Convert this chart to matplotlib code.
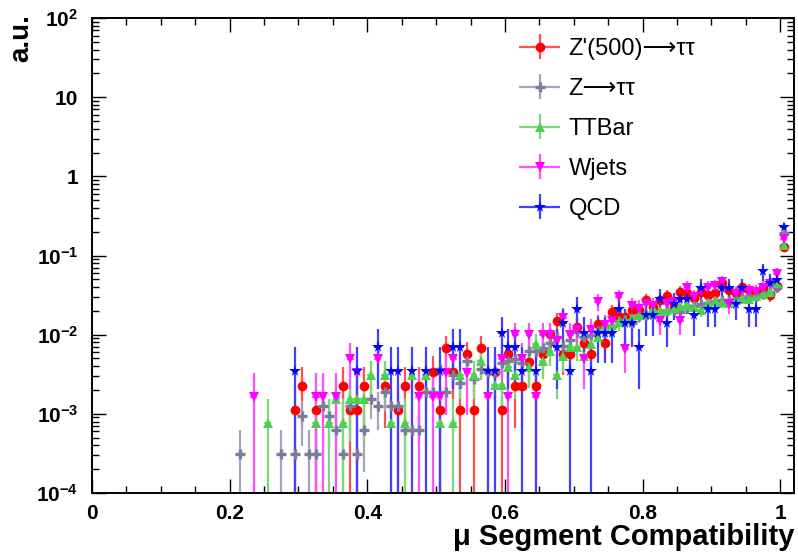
import numpy as np
import matplotlib
matplotlib.use("Agg")
import matplotlib.pyplot as plt
from matplotlib.ticker import MultipleLocator, FixedLocator, FixedFormatter, LogLocator, NullFormatter
from matplotlib.legend_handler import HandlerErrorbar
from matplotlib.container import ErrorbarContainer

plt.rcParams["font.family"] = ["Liberation Sans", "DejaVu Sans"]
plt.rcParams["mathtext.fontset"] = "custom"
plt.rcParams["mathtext.rm"] = "Liberation Sans:bold"
plt.rcParams["mathtext.it"] = "Liberation Sans:bold"
plt.rcParams["mathtext.bf"] = "Liberation Sans:bold"

# 0.01-wide bins; the first filled bin is [0.21, 0.22), the last [1.00, 1.01)
BIN_WIDTH = 0.01
FIRST_BIN = 21

# raw entries per bin (bins 21..100) and the per-entry weight after unit-area normalisation
zprime_counts = [0, 0, 0, 0, 0, 0, 0, 0, 1, 2,
                 0, 1, 0, 0, 0, 2, 1, 1, 2, 0,
                 0, 2, 0, 1, 2, 0, 2, 0, 3, 1,
                 6, 3, 1, 5, 1, 6, 0, 3, 1, 5,
                 2, 2, 4, 2, 5, 9, 13, 5, 5, 11,
                 7, 5, 12, 7, 17, 15, 15, 18, 18, 24,
                 20, 24, 27, 20, 31, 30, 26, 31, 28, 30,
                 40, 32, 30, 35, 32, 30, 34, 28, 36, 115]
ztautau_counts = [1, 0, 0, 0, 0, 0, 1, 0, 1, 3,
                  1, 1, 4, 3, 2, 1, 4, 1, 2, 5,
                  4, 6, 4, 4, 2, 2, 2, 6, 6, 12,
                  6, 10, 8, 15, 9, 12, 11, 11, 14, 15,
                  16, 14, 20, 20, 22, 25, 30, 23, 28, 35,
                  30, 32, 36, 40, 42, 48, 50, 45, 55, 58,
                  60, 60, 64, 66, 63, 70, 74, 78, 80, 85,
                  88, 86, 90, 95, 98, 100, 105, 110, 130, 613]
ttbar_counts = [0, 0, 0, 0, 1, 0, 0, 0, 0, 0,
                0, 1, 0, 1, 2, 1, 2, 2, 2, 4,
                0, 4, 1, 0, 1, 4, 0, 4, 0, 1,
                0, 1, 4, 0, 4, 6, 0, 3, 3, 5,
                4, 0, 5, 10, 6, 8, 4, 7, 9, 9,
                7, 10, 12, 16, 17, 19, 20, 21, 23, 24,
                28, 26, 27, 28, 30, 31, 29, 27, 33, 35,
                34, 33, 36, 38, 37, 40, 42, 45, 58, 175]
wjets_counts = [0, 0, 1, 0, 0, 0, 0, 0, 0, 0,
                0, 1, 1, 0, 1, 0, 3, 2, 0, 0,
                3, 0, 0, 0, 0, 0, 1, 0, 1, 1,
                2, 3, 0, 2, 0, 0, 1, 0, 3, 1,
                6, 3, 6, 1, 6, 6, 5, 10, 6, 7,
                3, 7, 16, 8, 9, 18, 4, 14, 13, 15,
                14, 9, 15, 16, 9, 24, 18, 22, 24, 25,
                28, 15, 20, 22, 22, 21, 24, 27, 36, 98]
qcd_counts = [0, 0, 0, 0, 0, 0, 0, 0, 1, 0,
              0, 0, 0, 0, 0, 0, 0, 1, 0, 0,
              2, 0, 1, 1, 0, 1, 0, 1, 0, 1,
              0, 2, 2, 0, 0, 0, 1, 1, 3, 2,
              2, 1, 0, 1, 0, 0, 2, 4, 1, 6,
              3, 1, 3, 3, 3, 6, 4, 4, 2, 5,
              5, 8, 4, 7, 8, 8, 5, 11, 6, 6,
              11, 11, 7, 11, 6, 6, 18, 13, 14, 66]

zprime_weight = 1.13e-3
ztautau_weight = 3.1e-4
ttbar_weight = 7.7e-4
wjets_weight = 1.64e-3
qcd_weight = 3.5e-3

labels = ["Z'(500)\u27f6\u03c4\u03c4", "Z\u27f6\u03c4\u03c4", "TTBar", "Wjets", "QCD"]

Y_MIN, Y_MAX = 1e-4, 1e2


def draw_hist(ax, counts, weight, color, ecolor, marker, ms, label, mew=0.0):
    counts = np.asarray(counts, dtype=float)
    x = (FIRST_BIN + np.arange(len(counts)) + 0.5) * BIN_WIDTH
    keep = counts > 0
    val = counts[keep] * weight
    err = np.sqrt(counts[keep]) * weight
    lo = np.minimum(err, val - 1e-6)  # single-entry bins run down off the log axis
    return ax.errorbar(
        x[keep], val, yerr=[lo, err], xerr=BIN_WIDTH / 2,
        fmt=marker, color=color, ecolor=ecolor, ms=ms, mec=color, mew=mew,
        elinewidth=1.6, capsize=0, label=label,
    )


fig = plt.figure(figsize=(7.98, 5.58), dpi=100)
ax = fig.add_axes([0.1153, 0.1165, 0.8797, 0.8512])
ax.set_yscale("log")

handles = [
    draw_hist(ax, zprime_counts, zprime_weight, "#ff0000", "#ff5050", "o", 7.0, labels[0]),
    draw_hist(ax, ztautau_counts, ztautau_weight, "#7c7c9c", "#a4a4bc", "+", 7.5, labels[1], mew=2.4),
    draw_hist(ax, ttbar_counts, ttbar_weight, "#4fcf4f", "#7ada7a", "^", 7.5, labels[2]),
    draw_hist(ax, wjets_counts, wjets_weight, "#ff00ff", "#ff50ff", "v", 7.5, labels[3]),
    draw_hist(ax, qcd_counts, qcd_weight, "#0000ff", "#4040ff", "*", 8.5, labels[4]),
]

ax.set_xlim(0, 1.02)
ax.set_ylim(Y_MIN, Y_MAX)

# axis ticks: inward on all four sides
ax.xaxis.set_major_locator(FixedLocator([0, 0.2, 0.4, 0.6, 0.8, 1.0]))
ax.xaxis.set_major_formatter(FixedFormatter(["0", "0.2", "0.4", "0.6", "0.8", "1"]))
ax.xaxis.set_minor_locator(MultipleLocator(0.05))
decades = [1e-4, 1e-3, 1e-2, 1e-1, 1, 10, 100]
ax.yaxis.set_major_locator(FixedLocator(decades))
ax.yaxis.set_major_formatter(FixedFormatter(
    ["$10^{-4}$", "$10^{-3}$", "$10^{-2}$", "$10^{-1}$", "1", "10", "$10^{2}$"]))
ax.yaxis.set_minor_locator(LogLocator(base=10, subs=np.arange(2, 10)))
ax.yaxis.set_minor_formatter(NullFormatter())
ax.tick_params(which="both", direction="in", top=True, right=True, width=1.0)
ax.tick_params(which="major", length=10)
ax.tick_params(which="minor", length=5)
ax.tick_params(axis="x", which="major", labelsize=15, pad=8)
ax.tick_params(axis="y", which="major", labelsize=15, pad=10)
for lab in ax.get_xticklabels() + ax.get_yticklabels():
    lab.set_fontweight("bold")
for sp in ax.spines.values():
    sp.set_linewidth(1.4)

fig.text(0.996, 0.037, "\u03bc Segment Compatibility", ha="right", va="center",
         fontsize=21, fontweight="bold")
fig.text(0.027, 0.975, "a.u.", rotation=90, ha="center", va="top",
         fontsize=20, fontweight="bold")

leg = ax.legend(
    handles=handles, labels=labels,
    loc="upper left", bbox_to_anchor=(519 / 798, 1 - 38 / 558), bbox_transform=fig.transFigure,
    frameon=False, fontsize=17, borderpad=0, borderaxespad=0,
    handlelength=1.75, handletextpad=0.35, labelspacing=0.76,
    handler_map={ErrorbarContainer: HandlerErrorbar(xerr_size=0.87, yerr_size=0.53)},
)

fig.savefig("out.png", dpi=100)
